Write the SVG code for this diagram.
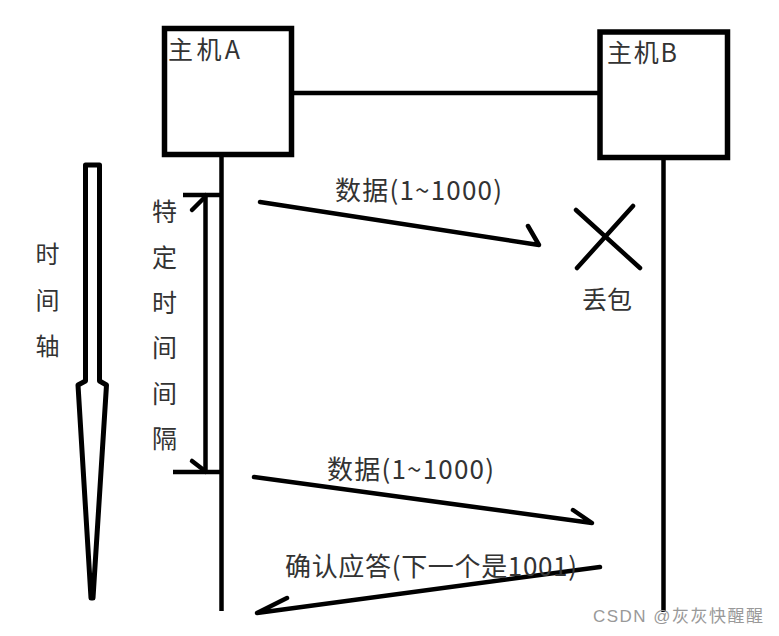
<svg xmlns="http://www.w3.org/2000/svg" width="779" height="636" viewBox="0 0 779 636">
<style>
.box{fill:#fff;stroke:#000;stroke-width:5.5}
.ln{fill:none;stroke:#000;stroke-width:4.5;stroke-linecap:round;stroke-linejoin:round}
.t{font-family:"Noto Sans CJK SC","Microsoft YaHei",sans-serif;fill:#333}
.v{text-anchor:middle}
</style>
<rect width="779" height="636" fill="#fff"/>
<g id="connectors">
  <line class="ln" x1="294" y1="93" x2="598" y2="93" style="stroke-linecap:butt"/>
  <line class="ln" x1="221.5" y1="157" x2="221.5" y2="611" style="stroke-linecap:butt"/>
  <line class="ln" x1="663.5" y1="160" x2="663.5" y2="612" style="stroke-linecap:butt"/>
  <polyline class="ln" points="260,202 539,245 528,226"/>
  <polyline class="ln" points="254,477 592,523 573,510"/>
  <polyline class="ln" points="600,567 257,613 287,598"/>
</g>
<g id="hostA">
  <rect class="box" x="164.5" y="28.5" width="127" height="126"/>
  <text class="t" x="168" y="59" font-size="25" textLength="72">主机A</text>
</g>
<g id="hostB">
  <rect class="box" x="600" y="32" width="127.5" height="125.5"/>
  <text class="t" x="607" y="62" font-size="25" textLength="70">主机B</text>
</g>
<g id="timeAxis">
  <path d="M85.5,165 L99.5,165 L99.5,381 L106.5,385 L93,598 L91,598 L78,385 L85.5,381 Z" fill="#fff" stroke="#000" stroke-width="5" stroke-linejoin="round"/>
  <g class="t v" font-size="24">
    <text x="47.5" y="263">时</text>
    <text x="47.5" y="309">间</text>
    <text x="47.5" y="355">轴</text>
  </g>
</g>
<g id="interval">
  <line class="ln" x1="205.5" y1="195" x2="205.5" y2="472"/>
  <line class="ln" x1="183" y1="195" x2="221" y2="195" style="stroke-linecap:butt"/>
  <line class="ln" x1="173" y1="472" x2="221" y2="472" style="stroke-linecap:butt"/>
  <line class="ln" x1="192" y1="210" x2="205" y2="197"/>
  <line class="ln" x1="192" y1="461" x2="205" y2="471"/>
  <g class="t v" font-size="25">
    <text x="164.5" y="221">特</text>
    <text x="164.5" y="266.5">定</text>
    <text x="164.5" y="312">时</text>
    <text x="164.5" y="357">间</text>
    <text x="164.5" y="402.5">间</text>
    <text x="164.5" y="448">隔</text>
  </g>
</g>
<g id="loss">
  <line class="ln" x1="576" y1="210" x2="640" y2="268"/>
  <line class="ln" x1="633" y1="206" x2="577" y2="268"/>
  <text class="t v" x="607" y="309" font-size="25">丢包</text>
</g>
<g id="labels">
  <text class="t" x="335" y="200" font-size="26" textLength="167">数据(1~1000)</text>
  <text class="t" x="327" y="479" font-size="26" textLength="167">数据(1~1000)</text>
  <text class="t" x="285" y="576" font-size="26" textLength="292">确认应答(下一个是1001)</text>
</g>
<g id="watermark">
  <text x="593" y="622" font-size="17" font-family="'Liberation Sans','Noto Sans CJK SC',sans-serif" fill="#999" textLength="170">CSDN @灰灰快醒醒</text>
</g>
</svg>
